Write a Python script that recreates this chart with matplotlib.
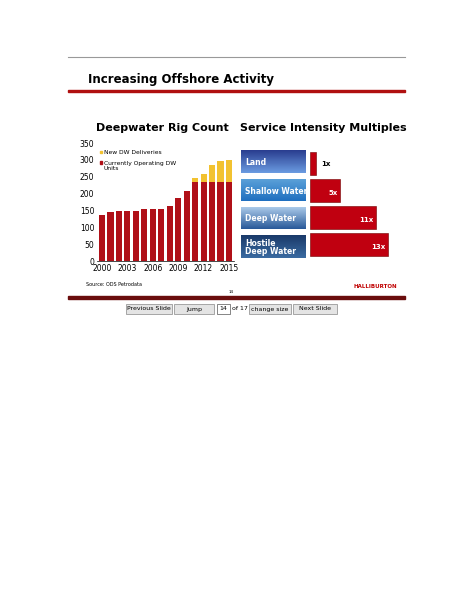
import matplotlib
matplotlib.use("Agg")
import matplotlib.pyplot as plt
import numpy as np
from matplotlib.patches import Rectangle

years = list(range(2000, 2016))
operating = [135, 145, 147, 147, 149, 153, 153, 155, 163, 187, 208, 233, 233, 233, 233, 233]
new_dw = [0, 0, 0, 0, 0, 0, 0, 0, 0, 0, 0, 12, 26, 53, 65, 67]
year_ticks = [2000, 2003, 2006, 2009, 2012, 2015]

categories = ["Land", "Shallow Water", "Deep Water", "Hostile\nDeep Water"]
multiples = [1, 5, 11, 13]
mult_labels = ["1x", "5x", "11x", "13x"]

W, H = 464, 600
fig = plt.figure(figsize=(4.64, 6.0), dpi=100)
fig.patch.set_facecolor("white")

def fx(x): return x / W
def fy(y): return 1 - y / H

# slide decorations
fig.add_artist(plt.Line2D([fx(68), fx(405)], [fy(57), fy(57)], color="#999999", lw=0.8))
fig.text(fx(88), fy(79), "Increasing Offshore Activity", fontsize=8.5, fontweight="bold", va="center")
fig.add_artist(Rectangle((fx(68), fy(92)), fx(337), 2.2 / H, color="#b01010"))
fig.text(fx(96), fy(128), "Deepwater Rig Count", fontsize=8, fontweight="bold", va="center")
fig.text(fx(240), fy(128), "Service Intensity Multiples", fontsize=8, fontweight="bold", va="center")
fig.text(fx(86), fy(284), "Source: ODS Petrodata", fontsize=3.5, va="center")
fig.text(fx(375), fy(287), "HALLIBURTON", fontsize=4, fontweight="bold", color="#c00000", ha="center", va="center")
fig.text(fx(231), fy(292), "14", fontsize=3, ha="center", va="center")
fig.add_artist(Rectangle((fx(68), fy(299)), fx(337), 3 / H, color="#6a0d0d"))

# buttons
for x0, w, t in [(126, 46, "Previous Slide"), (174, 40, "Jump"), (249, 42, "change size"), (293, 44, "Next Slide")]:
    fig.add_artist(Rectangle((fx(x0), fy(314)), fx(w), 10 / H, facecolor="#e4e4e4", edgecolor="#888888", lw=0.5))
    fig.text(fx(x0 + w / 2), fy(309), t, fontsize=4.5, ha="center", va="center")
fig.add_artist(Rectangle((fx(217), fy(314)), fx(13), 10 / H, facecolor="white", edgecolor="#555555", lw=0.5))
fig.text(fx(223.5), fy(309), "14", fontsize=4.5, ha="center", va="center")
fig.text(fx(232), fy(309), "of 17", fontsize=4.5, va="center")

# bar chart
ax = fig.add_axes([fx(97), fy(261), fx(137), (261 - 143) / H])
ax.bar(years, operating, width=0.72, color="#b01018")
ax.bar(years, new_dw, bottom=operating, width=0.72, color="#f2c230")
ax.set_ylim(0, 350)
ax.set_xlim(1999.4, 2015.6)
ax.set_yticks(range(0, 351, 50))
ax.set_xticks(year_ticks)
ax.tick_params(labelsize=5.5, length=0, pad=2)
for s in ["top", "right", "left"]:
    ax.spines[s].set_visible(False)
ax.spines["bottom"].set_linewidth(0.5)
ax.text(2000.2, 323, "New DW Deliveries", fontsize=4.3, va="center")
ax.add_patch(Rectangle((1999.7, 319), 0.35, 8, color="#f2c230"))
ax.text(2000.2, 297, "Currently Operating DW\nUnits", fontsize=4.3, va="top", linespacing=1.1)
ax.add_patch(Rectangle((1999.7, 289), 0.35, 8, color="#b01018"))

# service intensity
rows_y = [(150, 173), (179, 201), (207, 229), (235, 258)]
tops = ["#2a3e90", "#5aa0d8", "#a8c8e8", "#1a3a6a"]
bots = ["#6a9ae0", "#2070c0", "#2a5a9a", "#3a6aa0"]
for (y0, y1), c, t, b in zip(rows_y, categories, tops, bots):
    iax = fig.add_axes([fx(241), fy(y1), fx(64), (y1 - y0) / H])
    ct = np.array(matplotlib.colors.to_rgb(t)); cb = np.array(matplotlib.colors.to_rgb(b))
    g = np.linspace(0, 1, 20)[:, None, None]
    img = ct * (1 - g) + cb * g
    img = np.repeat(img, 10, axis=1)
    iax.imshow(img, aspect="auto", extent=[0, 1, 0, 1])
    iax.set_axis_off()
    iax.text(0.06, 0.08 if "\n" in c else 0.25, c, color="white", fontsize=5.5, fontweight="bold",
             va="bottom", linespacing=0.9, transform=iax.transAxes)

bax = fig.add_axes([fx(310), fy(258), fx(80), (258 - 150) / H])
ypos = [0, 1, 2, 3]
bax.barh(ypos, multiples, height=0.82, color="#c00010", edgecolor="#700000", lw=0.4)
bax.set_xlim(0, 13.3)
bax.set_ylim(3.5, -0.5)
bax.set_axis_off()
for y, v, l in zip(ypos, multiples, mult_labels):
    if v < 3:
        bax.text(v + 0.8, y, l, fontsize=5, fontweight="bold", va="center")
    else:
        bax.text(v - 0.4, y + 0.1, l, fontsize=5, fontweight="bold", va="center", ha="right", color="white")

fig.savefig("out.png", dpi=100)
